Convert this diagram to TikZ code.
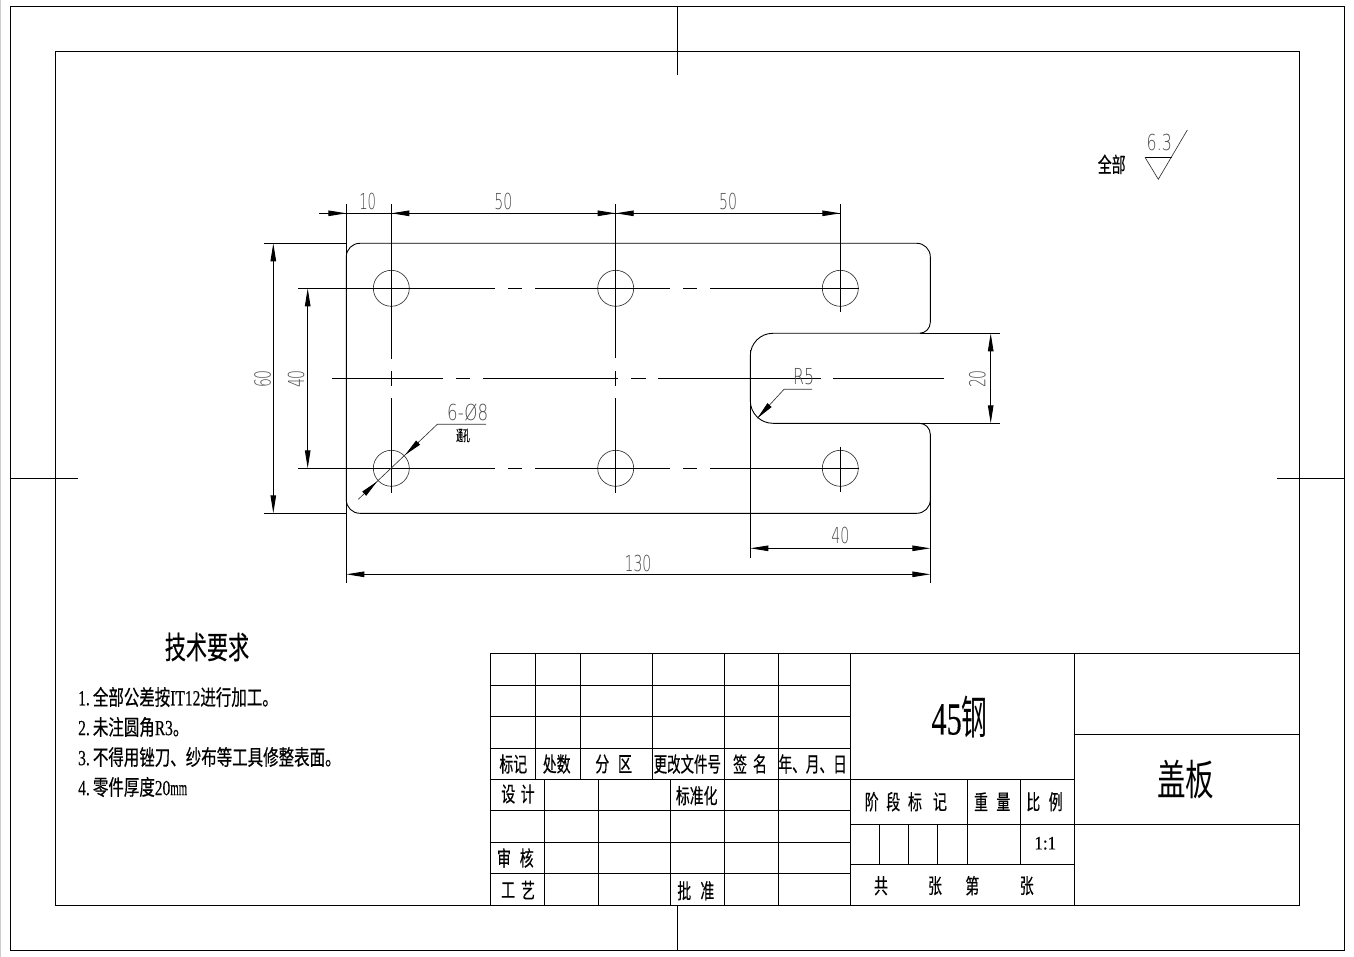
\documentclass[tikz,border=0pt]{standalone}
\usepackage{fontspec}
\usepackage{graphicx}
\usetikzlibrary{arrows.meta}
\setmainfont[FakeBold=0.3]{Liberation Serif}
\newfontfamily\cjk[FakeBold=0.5]{Noto Sans CJK SC}
\newfontfamily\cjkl{Noto Sans CJK SC}
\newfontfamily\dimf{DejaVu Sans ExtraLight}
\newcommand{\cn}[1]{\scalebox{.66}[1]{\cjk #1}}
\newcommand{\cnchar}[3]{\node[tbl] at (#1,#2) {\cn{#3}};}
\newcommand{\dm}[2][.64]{\scalebox{#1}[1]{\dimf #2}}
\tikzset{
  lin/.style={line width=.9pt,black},
  thin line/.style={line width=.65pt,black!80},
  tbl/.style={inner sep=0pt,font=\fontsize{21}{21}\selectfont},
  dimtext/.style={inner sep=0pt,text=black!70,font=\fontsize{22}{22}\selectfont},
  tipped/.style={line width=.9pt,-{Triangle[length=18pt,width=5.5pt]}},
  item/.style={inner sep=0pt,anchor=west,font=\fontsize{21.5}{21.5}\selectfont}
}
\begin{document}
\begin{tikzpicture}[x=1pt,y=-1pt]
\useasboundingbox (0,0) rectangle (1354,957);
\fill[white] (0,0) rectangle (1354,957);
\fill[black!20] (0,0) rectangle (1,957);
% frames
\draw[lin] (10.5,6.5) rectangle (1344.5,950.3);
\draw[lin] (55.3,51.8) rectangle (1299.5,905);
\draw[lin] (677,6.5) -- (677,75);
\draw[lin] (677,905) -- (677,950.3);
\draw[lin] (10.5,478) -- (78,478);
\draw[lin] (1277,478) -- (1344.5,478);
% part outline
\draw[lin] (600,243.3) [rounded corners=13.5pt] -- (930.3,243.3) [rounded corners=11pt] -- (930.3,333.3) [rounded corners=22.5pt] -- (750.3,333.3) -- (750.3,423.3) [rounded corners=11pt] -- (930.3,423.3) [rounded corners=13.5pt] -- (930.3,513.3) -- (346.3,513.3) -- (346.3,243.3) -- cycle;
% holes
\foreach \hx in {391.3,615.7,840.3}
  \foreach \hy in {288.3,468.3}
    \draw[thin line] (\hx,\hy) circle (18);
% centre lines
\foreach \hy in {288.3,468.3}{
  \draw[lin] (298.3,\hy) -- (495,\hy);
  \draw[lin] (508.3,\hy) -- (521.7,\hy);
  \draw[lin] (535,\hy) -- (670,\hy);
  \draw[lin] (683.3,\hy) -- (696.7,\hy);
  \draw[lin] (710,\hy) -- (858.5,\hy);
}
\draw[lin] (332.3,378.3) -- (442.7,378.3);
\draw[lin] (456,378.3) -- (470,378.3);
\draw[lin] (483.3,378.3) -- (618.3,378.3);
\draw[lin] (631,378.3) -- (646,378.3);
\draw[lin] (658.3,378.3) -- (821,378.3);
\draw[lin] (833,378.3) -- (944,378.3);
\draw[lin] (391.3,204) -- (391.3,359);
\draw[lin] (391.3,371) -- (391.3,385.7);
\draw[lin] (391.3,398.3) -- (391.3,493.3);
\draw[lin] (615.7,204) -- (615.7,357.7);
\draw[lin] (615.7,371) -- (615.7,385.7);
\draw[lin] (615.7,398.3) -- (615.7,493.3);
\draw[lin] (840.3,204) -- (840.3,311.7);
\draw[lin] (840.3,446.7) -- (840.3,491.7);
% extension lines
\draw[lin] (346.3,204) -- (346.3,583);
\draw[lin] (750.3,350) -- (750.3,557.7);
\draw[lin] (930.3,437) -- (930.3,583);
\draw[lin] (264,243.3) -- (346.3,243.3);
\draw[lin] (264,513.3) -- (346.3,513.3);
\draw[lin] (920,333.3) -- (1000,333.3);
\draw[lin] (920,423.3) -- (1000,423.3);
% horizontal dimensions
\draw[lin] (319,213.3) -- (840.3,213.3);
\draw[tipped] (327,213.3) -- (346.3,213.3);
\draw[tipped] (410,213.3) -- (391.3,213.3);
\draw[tipped] (597,213.3) -- (615.7,213.3);
\draw[tipped] (634,213.3) -- (615.7,213.3);
\draw[tipped] (822,213.3) -- (840.3,213.3);
\draw[tipped] (840,548.3) -- (750.3,548.3);
\draw[tipped] (840,548.3) -- (930.3,548.3);
\draw[tipped] (638,574.3) -- (346.3,574.3);
\draw[tipped] (638,574.3) -- (930.3,574.3);
% vertical dimensions
\draw[tipped,{Triangle[length=18pt,width=5.5pt]}-{Triangle[length=18pt,width=5.5pt]}] (273.3,243.3) -- (273.3,513.3);
\draw[tipped,{Triangle[length=18pt,width=5.5pt]}-{Triangle[length=18pt,width=5.5pt]}] (307.7,288.3) -- (307.7,468.3);
\draw[tipped,{Triangle[length=18pt,width=5.5pt]}-{Triangle[length=18pt,width=5.5pt]}] (990.7,333.3) -- (990.7,423.3);
% leaders
\draw[thin line] (358.3,499.3) -- (437.3,424.3) -- (486,424.3);
\draw[tipped] (418.3,442.4) -- (405,455);
\draw[tipped] (364.3,493.6) -- (377.3,481.3);
\draw[thin line] (757.3,418.3) -- (784,389.3) -- (812,389.3);
\draw[tipped] (769.5,405.1) -- (757.3,418.3);
% dimension texts
\node[dimtext] (d10) at (367.7,201) {\dm[.6]{10}};
\node[dimtext] (d50a) at (503.3,201) {\dm{50}};
\node[dimtext] (d50b) at (728,201) {\dm{50}};
\node[dimtext,rotate=90] (d60) at (262.7,379) {\dm{60}};
\node[dimtext,rotate=90] (d40a) at (296,379) {\dm{40}};
\node[dimtext,rotate=90] (d20) at (977.3,379) {\dm{20}};
\node[dimtext] (d40b) at (840.3,535.7) {\dm{40}};
\node[dimtext] (d130) at (638,563) {\dm{130}};
\node[dimtext] (dr5) at (803.7,376.7) {\dm[.72]{R5}};
\node[dimtext] (dhole) at (467.7,412.3) {\dm[.76]{6-Ø8}};
\node[inner sep=0pt,font=\fontsize{15}{15}\selectfont] (dthru) at (463,435.5) {\scalebox{.45}[1]{\cjk 通孔}};
% surface symbol
\draw[lin] (1145,157.3) -- (1171.7,157.3);
\draw[thin line] (1145,157.3) -- (1158.3,179.3) -- (1187.3,130);
\node[dimtext] (s63) at (1159.3,142.7) {\dm[.72]{6.3}};
\node[tbl] (sall) at (1111.7,164.3) {\cn{全部}};
% notes
\node[inner sep=0pt,font=\fontsize{31}{31}\selectfont] (ntitle) at (207,647) {\scalebox{.68}[1]{\cjk 技术要求}};
\node[item] (n1) at (78,697) {\scalebox{.72}[1]{1.\hspace{.2em}{\cjk 全部公差按}IT12{\cjk 进行加工。}}};
\node[item] (n2) at (78,727) {\scalebox{.72}[1]{2.\hspace{.2em}{\cjk 未注圆角}R3{\cjk 。}}};
\node[item] (n3) at (78,757) {\scalebox{.72}[1]{3.\hspace{.2em}{\cjk 不得用锉刀、纱布等工具修整表面。}}};
\node[item] (n4) at (78,787) {\scalebox{.72}[1]{4.\hspace{.2em}{\cjk 零件厚度}20\scalebox{.7}[1]{mm}}};
% title block grid
\draw[lin] (490.3,653.3) rectangle (1299.5,905);
\foreach \ly in {685.3,716,748,779.3,810,842,873.3}
  \draw[lin] (490.3,\ly) -- (850.3,\ly);
\foreach \lx in {535.7,580.3,652.3}
  \draw[lin] (\lx,653.3) -- (\lx,779.3);
\foreach \lx in {724.3,778.3}
  \draw[lin] (\lx,653.3) -- (\lx,905);
\foreach \lx in {544.3,598.3,670.3}
  \draw[lin] (\lx,779.3) -- (\lx,905);
\draw[lin] (850.3,653.3) -- (850.3,905);
\draw[lin] (1074.3,653.3) -- (1074.3,905);
\draw[lin] (1074.3,734.3) -- (1299.5,734.3);
\draw[lin] (850.3,824) -- (1299.5,824);
\draw[lin] (850.3,779.3) -- (1074.3,779.3);
\draw[lin] (850.3,864.3) -- (1074.3,864.3);
\draw[lin] (967.3,779.3) -- (967.3,864.3);
\draw[lin] (1020.3,779.3) -- (1020.3,864.3);
\foreach \lx in {879.3,908.3,937.7}
  \draw[lin] (\lx,824) -- (\lx,864.3);
% title block texts
\node[tbl] (t1) at (513.3,764) {\cn{标记}};
\node[tbl] (t2) at (556.7,764) {\cn{处数}};
\cnchar{602.3}{764}{分}\cnchar{625}{764}{区}
\node[tbl] (t3) at (687.3,764) {\scalebox{.64}[1]{\cjk 更改文件号}};
\cnchar{740}{764}{签}\cnchar{760}{764}{名}
\node[tbl] (t4) at (812.7,764) {\scalebox{.65}[1]{\cjk 年、月、日}};
\cnchar{508.3}{794}{设}\cnchar{527.7}{794}{计}
\node[tbl] (t5) at (696.7,795.7) {\cn{标准化}};
\cnchar{504}{858}{审}\cnchar{526.7}{858}{核}
\cnchar{508}{890}{工}\cnchar{528}{890}{艺}
\cnchar{684.3}{890.7}{批}\cnchar{707.3}{890.7}{准}
\node[inner sep=0pt,font=\fontsize{46}{46}\selectfont] (t45) at (959.5,717) {\scalebox{.66}[1]{45}\scalebox{.56}[1]{\cjkl 钢}};
\node[inner sep=0pt,font=\fontsize{42}{42}\selectfont] (tname) at (1185.7,780) {\scalebox{.68}[1]{\cjkl 盖板}};
\cnchar{871.7}{801.7}{阶}\cnchar{893.3}{801.7}{段}\cnchar{915}{801.7}{标}\cnchar{940}{801.7}{记}
\cnchar{981}{801.7}{重}\cnchar{1003.3}{801.7}{量}
\cnchar{1033.3}{801.7}{比}\cnchar{1055.7}{801.7}{例}
\node[inner sep=0pt,font=\fontsize{19}{19}\selectfont] (tscale) at (1045.3,843.3) {\scalebox{.9}[1]{1:1}};
\cnchar{881}{885.7}{共}\cnchar{935}{885.7}{张}\cnchar{972.3}{885.7}{第}\cnchar{1026.7}{885.7}{张}
\end{tikzpicture}
\end{document}
